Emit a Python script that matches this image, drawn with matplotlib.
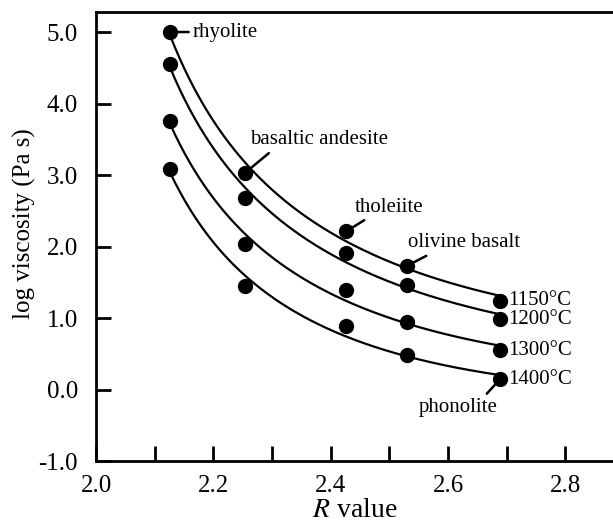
import numpy as np
import matplotlib
matplotlib.use("Agg")
import matplotlib.pyplot as plt

plt.rcParams["font.family"] = ["Liberation Serif", "DejaVu Serif"]
plt.rcParams["mathtext.fontset"] = "stix"

# R value of each rock type
r_values = [2.126, 2.254, 2.426, 2.530, 2.688]
rocks = ["rhyolite", "basaltic andesite", "tholeiite", "olivine basalt", "phonolite"]

temps = ["1150°C", "1200°C", "1300°C", "1400°C"]
log_visc = {
    "1150°C": [5.00, 3.03, 2.21, 1.73, 1.24],
    "1200°C": [4.55, 2.68, 1.91, 1.46, 0.98],
    "1300°C": [3.76, 2.03, 1.39, 0.94, 0.55],
    "1400°C": [3.08, 1.45, 0.89, 0.48, 0.14],
}

fig = plt.figure(figsize=(6.13, 5.31), dpi=100)
ax = fig.add_axes([96 / 613, 70 / 531, 517 / 613, 449 / 531])

x = np.array(r_values)
xs = np.linspace(x[0], x[-1], 200)
for t in temps:
    y = np.array(log_visc[t])
    coef = np.polyfit(np.log(x - 1.95), y, 2)
    ax.plot(xs, np.polyval(coef, np.log(xs - 1.95)), color="black", lw=1.6, zorder=2)
    ax.plot(x, y, "o", color="black", ms=10, zorder=3)
    ax.annotate(t, (x[-1], y[-1]), xytext=(6, 0), textcoords="offset points",
                ha="left", va="center", fontsize=15)

# rock name labels with leader lines
top = log_visc["1150°C"]
label_pos = [(2.165, 5.0, "left", (0, 0.5)),
             (2.262, 3.49, "left", (0.17, 0)),
             (2.441, 2.55, "left", (0.22, 0)),
             (2.532, 2.05, "left", (0.22, 0)),
             (2.617, -0.245, "center", (0.82, 1))]
for i, (tx, ty, ha, rp) in enumerate(label_pos):
    py = top[i] if i < 4 else log_visc["1400°C"][-1]
    ax.annotate(rocks[i], (r_values[i], py), xytext=(tx, ty), ha=ha, va="center",
                fontsize=15,
                arrowprops=dict(arrowstyle="-", lw=1.8, color="black", relpos=rp,
                                shrinkA=1, shrinkB=0))

ax.set_xlim(2.0, 2.881)
ax.set_ylim(-1.0, 5.28)
ax.set_xticks(np.arange(2.0, 2.81, 0.2))
ax.set_xticks(np.arange(2.1, 2.81, 0.2), minor=True)
ax.set_xticklabels(["2.0", "2.2", "2.4", "2.6", "2.8"])
ax.set_yticks(np.arange(-1, 6, 1))
ax.set_yticklabels([f"{v:.1f}" for v in range(-1, 6)])

ax.tick_params(axis="both", which="both", direction="in", length=11, width=2, labelsize=18)
ax.tick_params(axis="x", pad=10)
ax.tick_params(axis="y", pad=13)
ax.spines["right"].set_visible(False)
for s in ["left", "top", "bottom"]:
    ax.spines[s].set_linewidth(2)

ax.set_xlabel("$R$ value", fontsize=20, labelpad=1)
ax.set_ylabel("log viscosity (Pa s)", fontsize=18)
ax.yaxis.set_label_coords(-0.116, 0.528)

plt.savefig("out.png", dpi=100)
